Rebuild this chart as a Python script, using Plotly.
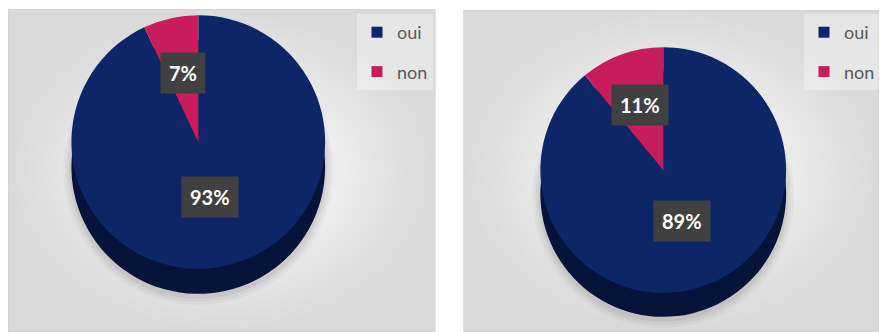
import math
import plotly.graph_objects as go

# Survey answers, one pie per question
categories = ["oui", "non"]
values_left = [93, 7]
values_right = [89, 11]

W, H = 880, 332
FACE_COLORS = ["#0c2668", "#c71d5c"]
SIDE_COLORS = ["#06143a", "#5e0c2a"]
LABEL_FONT = "Lato"


def px_x(x):
    return min(max(x / W, 0.0), 1.0)


def px_y(y):
    return min(max(1 - y / H, 0.0), 1.0)


def domain(cx, cy, d):
    return dict(x=[px_x(cx - d / 2), px_x(cx + d / 2)],
                y=[px_y(cy + d / 2), px_y(cy - d / 2)])


fig = go.Figure()

# panels: rectangle with a radial grey gradient, each on its own hidden axes
panels = [
    dict(x0=8, x1=436, y0=9, y1=H, ax="x", ay="y"),
    dict(x0=464, x1=W, y0=10, y1=H, ax="x2", ay="y2"),
]
for i, p in enumerate(panels):
    fig.add_trace(go.Scatter(
        x=[0, 1, 1, 0, 0], y=[0, 0, 1, 1, 0], mode="lines",
        line=dict(color="#cfcfcf", width=1), fill="toself",
        fillgradient=dict(type="radial",
                          colorscale=[[0, "#f7f7f7"], [0.55, "#ececec"], [1, "#d9d9d9"]]),
        hoverinfo="skip", showlegend=False,
        xaxis=p["ax"], yaxis=p["ay"]))
    sfx = "" if i == 0 else "2"
    fig.update_layout(**{
        f"xaxis{sfx}": dict(domain=[px_x(p["x0"]), px_x(p["x1"])], range=[0, 1],
                           visible=False, fixedrange=True),
        f"yaxis{sfx}": dict(domain=[px_y(p["y1"]), px_y(p["y0"])], range=[0, 1],
                           visible=False, fixedrange=True),
    })

pies = [
    dict(values=values_left, cx=198.5, cy=142, d=254, depth=25, legend="legend"),
    dict(values=values_right, cx=664, cy=170, d=246, depth=24, legend="legend2"),
]

annotations = []
for pie in pies:
    vals = pie["values"]
    cx, cy, d, depth = pie["cx"], pie["cy"], pie["d"], pie["depth"]
    common = dict(labels=categories, values=vals, sort=False, direction="clockwise",
                  rotation=0, textinfo="none", hoverinfo="skip", showlegend=False)
    # soft drop shadow under the disc
    for grow, alpha in [(16, 0.04), (10, 0.06), (4, 0.08)]:
        fig.add_trace(go.Pie(**common,
                             marker=dict(colors=[f"rgba(60,60,60,{alpha})"] * len(vals),
                                         line=dict(width=0)),
                             domain=domain(cx, cy + depth + 3, d + grow)))
    # side wall of the 3D disc
    fig.add_trace(go.Pie(**common, marker=dict(colors=SIDE_COLORS, line=dict(width=0)),
                         domain=domain(cx, cy + depth, d)))
    # top face
    fig.add_trace(go.Pie(**{**common, "hoverinfo": "label+percent"},
                         marker=dict(colors=FACE_COLORS, line=dict(width=0)),
                         domain=domain(cx, cy, d)))

    # percentage labels in dark boxes, placed along each slice's mid-angle
    total = sum(vals)
    start = 0.0
    for v in vals:
        share = v / total
        mid = (start + share / 2) * 2 * math.pi
        start += share
        rf = 0.44 if share > 0.5 else 0.56
        lx = cx + math.sin(mid) * rf * d / 2
        ly = cy - math.cos(mid) * rf * d / 2
        annotations.append(dict(
            x=px_x(lx), y=px_y(ly), xref="paper", yref="paper", showarrow=False,
            text=f"<b>{round(share * 100)}%</b>",
            font=dict(family=LABEL_FONT, size=20, color="white"),
            bgcolor="#404040", borderpad=8, xanchor="center", yanchor="middle"))

# legend entries (square swatches)
for pie in pies:
    for cat, col in zip(categories, FACE_COLORS):
        fig.add_trace(go.Scatter(
            x=[None], y=[None], mode="markers", name=cat, legendgroup=pie["legend"] + cat,
            marker=dict(symbol="square", size=11, color=col), legend=pie["legend"],
            xaxis="x", yaxis="y"))

legend_style = dict(font=dict(family=LABEL_FONT, size=18, color="#595959"),
                    bgcolor="rgba(255,255,255,0.35)", tracegroupgap=13,
                    xanchor="left", yanchor="top", itemwidth=30)
fig.update_layout(
    width=W, height=H, margin=dict(l=0, r=0, t=0, b=0),
    paper_bgcolor="white", plot_bgcolor="rgba(0,0,0,0)",
    legend=dict(x=px_x(357), y=px_y(14), **legend_style),
    legend2=dict(x=px_x(805), y=px_y(14), **legend_style),
    annotations=annotations,
)

fig.write_html("out.html")
